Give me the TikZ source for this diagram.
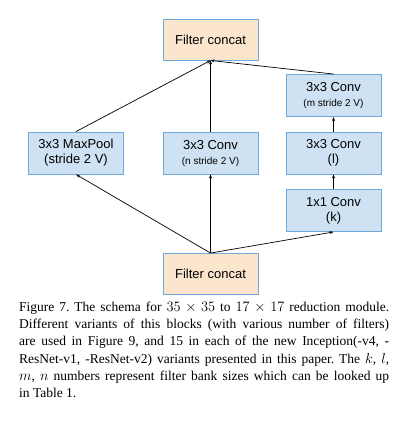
\documentclass[tikz,border=0pt]{standalone}
\usepackage{fontspec}
\setmainfont{Liberation Serif}
\newfontfamily\boxfont{Liberation Sans}
\usetikzlibrary{arrows.meta}
\definecolor{concatfill}{HTML}{FCE5CD}
\definecolor{convfill}{HTML}{CFE2F3}
\definecolor{boxline}{HTML}{6FA8DC}
\tikzset{
	concatbox/.style={draw=boxline, fill=concatfill, line width=0.9pt, minimum width=95pt, minimum height=41pt, font=\boxfont\fontsize{13}{15}\selectfont, align=center, inner sep=0pt},
	convbox/.style={draw=boxline, fill=convfill, line width=0.9pt, minimum width=95pt, minimum height=42pt, font=\boxfont\fontsize{13}{15}\selectfont, align=center, inner sep=0pt},
	flow/.style={line width=0.7pt, -{Stealth[length=4pt, width=3pt]}}
}
\newcommand{\smalltxt}[1]{{\fontsize{10}{12}\selectfont #1}}
\frenchspacing
\begin{document}
\begin{tikzpicture}[x=1pt, y=-1pt]
	\useasboundingbox (0, 0) rectangle (402, 424);
	\node[concatbox] (topcat) at (210.5, 39.5) {Filter concat};
	\node[concatbox] (botcat) at (210.5, 274) {Filter concat};
	\node[convbox] (pool) at (76, 153) {3x3 MaxPool\\(stride 2 V)};
	\node[convbox] (nconv) at (210.5, 153) {3x3 Conv\\\smalltxt{(n stride 2 V)}};
	\node[convbox] (kconv) at (333.5, 210.5) {1x1 Conv\\(k)};
	\node[convbox] (lconv) at (333.5, 153) {3x3 Conv\\(l)};
	\node[convbox] (mconv) at (333.5, 95.5) {3x3 Conv\\\smalltxt{(m stride 2 V)}};
	% from the lower concat
	\draw[flow] (botcat.north) -- (pool.south);
	\draw[flow] (botcat.north) -- (nconv.south);
	\draw[flow] (botcat.north) -- (kconv.south);
	% right branch
	\draw[flow] (kconv) -- (lconv);
	\draw[flow] (lconv) -- (mconv);
	% into the upper concat
	\draw[flow] (pool.north) -- (topcat.south);
	\draw[flow] (nconv.north) -- (topcat.south);
	\draw[flow] (mconv.north) -- (topcat.south);
	\node[anchor=north west, text width=370pt, align=justify, inner sep=0pt, font=\fontsize{13.5}{17.1}\selectfont] (caption) at (19, 302) {Figure 7. The schema for $35 \times 35$ to $17 \times 17$ reduction module.\linebreak Different variants of this blocks (with various number of filters)\linebreak are used in Figure 9, and 15 in each of the new Inception(-v4, -\linebreak ResNet-v1, -ResNet-v2) variants presented in this paper. The $k$, $l$,\linebreak $m$, $n$ numbers represent filter bank sizes which can be looked up\linebreak in Table 1.};
\end{tikzpicture}
\end{document}
